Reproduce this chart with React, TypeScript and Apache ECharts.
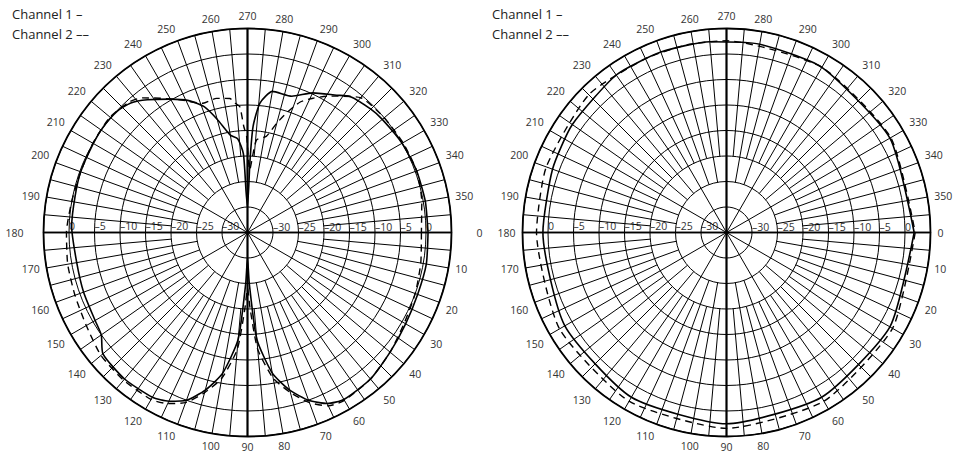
import React, { useEffect, useRef } from "react";
import * as echarts from "echarts";

// ---------- data ----------
const seriesNames = ["Channel 1", "Channel 2"];
const legendSuffix = [" –", " ––"];

// Left plot (dB vs angle in degrees)
const leftAngles1 = [0, 10, 20, 30, 40, 50, 60, 65, 70, 75, 80, 85, 88, 90, 92, 95, 100, 105, 110, 115, 120, 130, 140, 145, 150, 160, 170, 182, 192, 200, 210, 216, 223, 228, 233, 240, 246, 251, 255, 260, 264, 267, 268, 270, 272, 273, 275.5, 280, 288, 295, 303, 307, 315, 320, 330, 340, 350, 360];
const leftCh1 = [0.4, 0.6, 0.5, 0.8, 1.5, 2.5, 2.8, 2, 0, -3, -7, -14, -25, -30, -25, -14, -7, -3, 0, 1.5, 2.3, 2.5, 2, 0, -0.5, -0.8, -1, -0.5, -0.45, -0.2, -0.1, 0.05, -0.1, -0.8, -2.4, -4.8, -6.7, -8.9, -12, -15.6, -16.5, -19.5, -27, -30, -20.8, -14.2, -9.5, -6.9, -6.9, -4.8, -2.9, -1.6, -0.8, -0.5, 0, 0.3, 0.4, 0.4];
const leftAngles2 = [0, 10, 20, 30, 40, 50, 60, 65, 70, 75, 80, 85, 88, 90, 92, 95, 100, 105, 110, 115, 120, 130, 140, 150, 160, 170, 180, 190, 200, 210, 220, 228, 232, 237, 243, 251, 257, 262.5, 264.5, 266.5, 268, 269.5, 272, 275.5, 281, 285, 288, 292, 296, 301, 310, 320, 330, 340, 350, 360];
const leftCh2 = [-0.9, -0.5, 0, 0.5, 1.5, 2.5, 3, 2.5, 0.5, -2.5, -6, -12, -20, -24, -20, -12, -6, -2.5, 0.5, 2, 2.8, 2.8, 2.5, 1.5, 1, 0.8, 0.5, 0, -0.2, 0, 0.2, -0.5, -1.5, -3.6, -5.8, -8.2, -8.0, -8.5, -9.5, -10.3, -14.2, -16.2, -22.7, -16.8, -15.8, -12.8, -10.4, -7.4, -5.7, -3.8, -0.5, 0, 0.2, 0.3, -0.3, -0.9];

// Right plot
const rightAngles1 = [0, 30, 60, 90, 120, 150, 180, 200, 215, 235, 250, 265, 280, 300, 330, 360];
const rightCh1 = [1.8, 2.0, 2.3, 2.5, 2.3, 1.6, 1.0, 1.3, 1.9, 2.7, 2.65, 2.55, 2.5, 2.4, 2.0, 1.8];
const rightAngles2 = [0, 30, 60, 90, 120, 150, 180, 200, 225, 245, 258, 270, 300, 330, 360];
const rightCh2 = [2.0, 2.6, 3.2, 3.4, 3.2, 2.8, 2.25, 2.6, 3.2, 2.6, 2.6, 2.6, 2.4, 2.2, 2.0];

// Axes
const radiusMin = -35;
const radiusMax = 5;
const radiusStep = 5;
const angleLabelStep = 10;

// ---------- helpers ----------
const FONT = "'Open Sans', 'DejaVu Sans', sans-serif";

function spokeData() {
  const out: number[][] = [];
  for (let a = 0; a < 360; a += 5) {
    let start = -20;
    if (a % 30 === 0) start = radiusMin;
    else if (a % 10 === 0) start = -25;
    const w = a === 90 || a === 270 ? 2.2 : a === 0 || a === 180 ? 1.4 : 1;
    out.push([start, a, radiusMax, w]);
  }
  return out;
}

function zip(angles: number[], vals: number[]) {
  return angles.map((a, i) => [vals[i], a]);
}

function radiusLabel(v: number) {
  if (v <= radiusMin || v >= radiusMax) return "";
  return v < 0 ? "–" + Math.abs(v) : String(v);
}

export default function App() {
  const ref = useRef<HTMLDivElement>(null);
  useEffect(() => {
    if (!ref.current) return;
    const chart = echarts.init(ref.current, undefined, { renderer: "svg" });
    const centers = [
      [247.5, 232.5],
      [726.5, 232.5],
    ];
    const R = 204;
    const polar: any[] = [];
    const angleAxis: any[] = [];
    const radiusAxis: any[] = [];
    const series: any[] = [];
    const legend: any[] = [];
    const datasets = [
      [zip(leftAngles1, leftCh1), zip(leftAngles2, leftCh2)],
      [zip(rightAngles1, rightCh1), zip(rightAngles2, rightCh2)],
    ];
    const labelText = { fontSize: 10.5, fontFamily: FONT, color: "#333" };

    centers.forEach((c, p) => {
      polar.push({ center: c, radius: R });
      angleAxis.push({
        polarIndex: 2 * p,
        type: "value",
        min: 0,
        max: 360,
        interval: angleLabelStep,
        startAngle: 0,
        clockwise: true,
        axisLine: { show: true, lineStyle: { color: "#000", width: 1.8 } },
        axisTick: { show: false },
        splitLine: { show: false },
        axisLabel: {
          margin: 7,
          ...labelText,
          formatter: (v: number) => {
            if (v >= 360) return "";
            if (p === 0 && v === 0) return `{farR|${v}}`;
            if (p === 0 && v === 180) return `{farL|${v}}`;
            if (v === 90) return `{bot|${v}}`;
            return String(v);
          },
          rich: {
            farR: { ...labelText, padding: [0, 0, 0, 18] },
            farL: { ...labelText, padding: [0, 13, 0, 0] },
            bot: { ...labelText, lineHeight: 7 },
          },
        },
      });
      radiusAxis.push({
        polarIndex: 2 * p,
        type: "value",
        min: radiusMin,
        max: radiusMax,
        interval: radiusStep,
        axisLine: { show: true, lineStyle: { color: "#000", width: 1.4 } },
        axisTick: { show: false },
        splitLine: { show: true, lineStyle: { color: "#000", width: 1 } },
        axisLabel: {
          margin: 0,
          align: "left",
          verticalAlign: "bottom",
          ...labelText,
          formatter: radiusLabel,
        },
      });
      polar.push({ center: c, radius: R });
      angleAxis.push({
        polarIndex: 2 * p + 1,
        type: "value",
        min: 0,
        max: 360,
        startAngle: 180,
        show: false,
      });
      radiusAxis.push({
        polarIndex: 2 * p + 1,
        type: "value",
        min: radiusMin,
        max: radiusMax,
        interval: radiusStep,
        axisLine: { show: true, lineStyle: { color: "#000", width: 1.4 } },
        axisTick: { show: false },
        splitLine: { show: false },
        axisLabel: {
          margin: -1,
          align: "left",
          verticalAlign: "bottom",
          ...labelText,
          formatter: radiusLabel,
        },
      });

      series.push({
        type: "custom",
        coordinateSystem: "polar",
        polarIndex: 2 * p,
        silent: true,
        encode: { radius: 0, angle: 1 },
        data: spokeData(),
        z: 1,
        renderItem: (params: any, api: any) => {
          const p0 = api.coord([api.value(0), api.value(1)]);
          const p1 = api.coord([api.value(2), api.value(1)]);
          return {
            type: "line",
            shape: { x1: p0[0], y1: p0[1], x2: p1[0], y2: p1[1] },
            style: { stroke: "#000", lineWidth: api.value(3) },
          };
        },
      });

      series.push({
        name: seriesNames[0],
        type: "line",
        coordinateSystem: "polar",
        polarIndex: 2 * p,
        data: datasets[p][0],
        showSymbol: false,
        smooth: 0.2,
        z: 5,
        lineStyle: { color: "#000", width: 1.6, type: "solid" },
        itemStyle: { color: "#000" },
      });
      series.push({
        name: seriesNames[1],
        type: "line",
        coordinateSystem: "polar",
        polarIndex: 2 * p,
        data: datasets[p][1],
        showSymbol: false,
        smooth: 0.2,
        z: 5,
        lineStyle: { color: "#000", width: 1.4, type: [7, 5] },
        itemStyle: { color: "#000" },
      });

      legend.push({
        data: seriesNames,
        orient: "vertical",
        left: p === 0 ? 2 : 482,
        top: 2,
        itemGap: 7,
        itemWidth: 0,
        itemHeight: 0,
        icon: "none",
        selectedMode: false,
        textStyle: { fontSize: 13, fontFamily: FONT, color: "#222" },
        formatter: (name: string) => name + legendSuffix[seriesNames.indexOf(name)],
      });
    });

    chart.setOption({
      animation: false,
      backgroundColor: "#fff",
      polar,
      angleAxis,
      radiusAxis,
      legend,
      series,
    });
    return () => chart.dispose();
  }, []);
  return (
    <div
      ref={ref}
      style={{ position: "fixed", left: 0, top: 0, width: 959, height: 454 }}
    />
  );
}
